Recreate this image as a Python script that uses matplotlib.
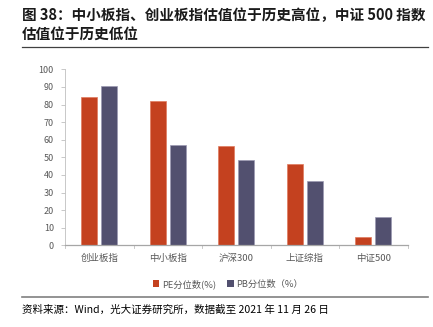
import matplotlib
matplotlib.use("Agg")
import matplotlib.pyplot as plt
from matplotlib.lines import Line2D
from matplotlib.patches import Patch
import numpy as np

plt.rcParams['font.family'] = ['Noto Sans CJK SC', 'DejaVu Sans']

categories = ['创业板指', '中小板指', '沪深300', '上证综指', '中证500']
pe_values = [84.4, 82.2, 56.4, 46.0, 4.7]
pb_values = [90.5, 57.0, 48.3, 36.5, 16.3]
series_names = ['PE分位数(%)', 'PB分位数（%）']
yticks = [0, 10, 20, 30, 40, 50, 60, 70, 80, 90, 100]

title_line1 = '图 38：中小板指、创业板指估值位于历史高位，中证 500 指数'
title_line2 = '估值位于历史低位'
source = '资料来源：Wind，光大证券研究所，数据截至 2021 年 11 月 26 日'

pe_color = '#C4411F'
pb_color = '#52506F'
tick_color = '#595959'

W, H = 433, 327
fig = plt.figure(figsize=(W / 100, H / 100), dpi=100)

ax = fig.add_axes([65 / W, 1 - 245.3 / H, (407.5 - 65) / W, (245.3 - 69.3) / H])
x = np.arange(len(categories))
bw = 0.235
off = 0.145
ax.bar(x - off, pe_values, bw, color=pe_color, edgecolor='#E07A5E', linewidth=0.5)
ax.bar(x + off, pb_values, bw, color=pb_color, edgecolor='#9C9AB3', linewidth=0.5)

ax.set_xlim(-0.5, len(categories) - 0.5)
ax.set_ylim(0, 100)
ax.set_yticks(yticks)
ax.set_yticklabels([str(v) for v in yticks], fontsize=6.5, color=tick_color)
ax.set_xticks(x)
ax.set_xticklabels(categories, fontsize=6.8, color=tick_color)
ax.tick_params(axis='x', length=0, pad=6)
ax.tick_params(axis='y', length=3, width=0.6, color='#BFBFBF', pad=5)
for b in np.arange(-0.5, len(categories), 1.0):
    ax.plot([b, b], [0, -1.8], color='#BFBFBF', lw=0.6, clip_on=False)
for s in ['top', 'right']:
    ax.spines[s].set_visible(False)
ax.spines['left'].set_color('#BFBFBF')
ax.spines['left'].set_linewidth(0.6)
ax.spines['bottom'].set_color('#A6A6A6')
ax.spines['bottom'].set_linewidth(0.9)

handles = [Patch(facecolor=pe_color), Patch(facecolor=pb_color)]
fig.legend(handles, series_names, loc='center', bbox_to_anchor=(228 / W, 1 - 284 / H),
           ncol=2, frameon=False, fontsize=6.7, labelcolor=tick_color,
           handlelength=0.7, handleheight=0.7, handletextpad=0.3, columnspacing=1.2)

fig.text(22 / W, 1 - 15 / H, title_line1, fontsize=10.5, fontweight='bold', va='center', ha='left', color='#1a1a1a')
fig.text(22 / W, 1 - 34 / H, title_line2, fontsize=10.5, fontweight='bold', va='center', ha='left', color='#1a1a1a')
fig.add_artist(Line2D([22 / W, 428 / W], [1 - 47 / H, 1 - 47 / H], color='#404040', lw=0.9))
fig.add_artist(Line2D([22 / W, 428 / W], [1 - 297 / H, 1 - 297 / H], color='#808080', lw=1.2))
fig.text(22 / W, 1 - 310 / H, source, fontsize=7.55, va='center', ha='left', color='#000000')

fig.savefig('out.png', dpi=100)
